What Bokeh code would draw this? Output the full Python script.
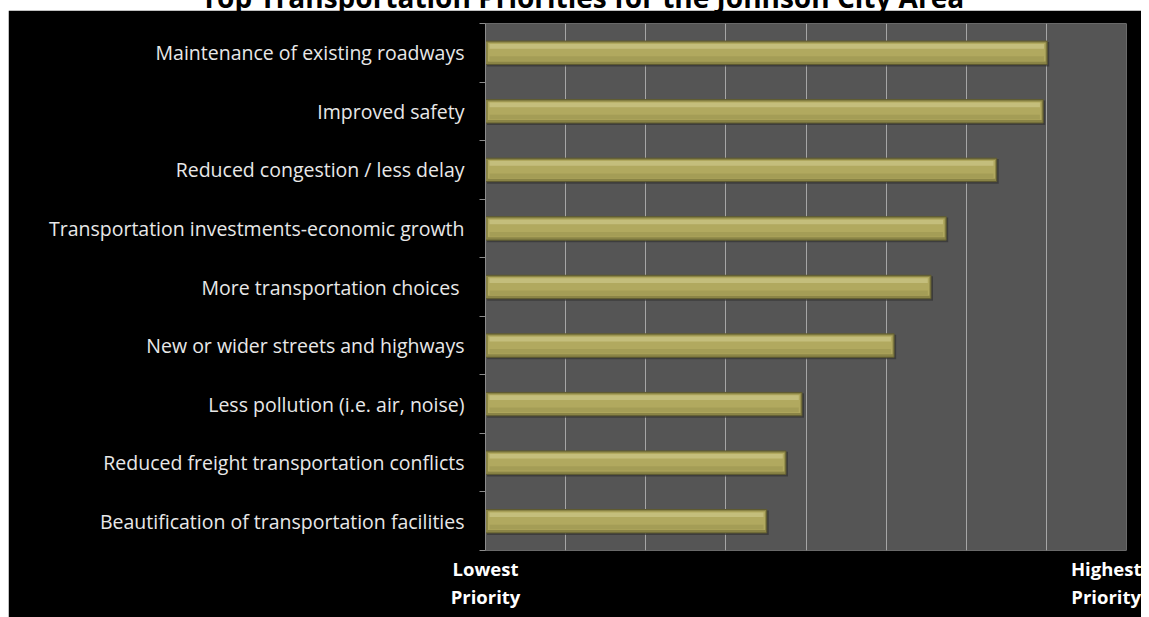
from bokeh.plotting import figure
from bokeh.models import Range1d, FixedTicker, Div
from bokeh.layouts import column
from bokeh.embed import file_html
from bokeh.resources import INLINE

title_text = "Top Transportation Priorities for the Johnson City Area"
categories = [
    "Maintenance of existing roadways",
    "Improved safety",
    "Reduced congestion / less delay",
    "Transportation investments-economic growth",
    "More transportation choices ",
    "New or wider streets and highways",
    "Less pollution (i.e. air, noise)",
    "Reduced freight transportation conflicts",
    "Beautification of transportation facilities",
]
scores = [7.01, 6.96, 6.38, 5.75, 5.56, 5.10, 3.95, 3.75, 3.51]
x_tick_values = [0, 7.78]
x_tick_labels = ["Lowest\nPriority", "Highest\nPriority"]

n = len(categories)
ys = [n - 0.5 - i for i in range(n)]

p = figure(width=1133, height=607, output_backend="svg", toolbar_location=None,
           x_range=Range1d(0, 8), y_range=Range1d(0, n),
           min_border_left=477, min_border_right=15, min_border_top=13, min_border_bottom=67,
           margin=(0, 0, -20, 8))
p.border_fill_color = "black"
p.background_fill_color = "#555555"
p.outline_line_color = None

# bars: shadow + layered gradient
p.hbar(y=[y - 0.025 for y in ys], left=0.02, right=[s + 0.025 for s in scores], height=0.42,
       fill_color="#333333", fill_alpha=0.7, line_color=None)
p.hbar(y=ys, left=0.0, right=scores, height=0.40, fill_color="#8a8446", line_color="#5e5a30", line_width=1)
p.hbar(y=[y + 0.01 for y in ys], left=0.03, right=[s - 0.02 for s in scores], height=0.32,
       fill_color="#b1a95f", line_color=None)
p.hbar(y=[y + 0.11 for y in ys], left=0.05, right=[s - 0.04 for s in scores], height=0.08,
       fill_color="#c7c07f", fill_alpha=0.9, line_color=None)
p.hbar(y=[y - 0.1 for y in ys], left=0.05, right=[s - 0.04 for s in scores], height=0.08,
       fill_color="#a39b55", fill_alpha=0.9, line_color=None)

# x axis
xa = p.xaxis[0]
xa.ticker = FixedTicker(ticks=x_tick_values)
xa.major_label_overrides = {v: t for v, t in zip(x_tick_values, x_tick_labels)}
xa.major_label_text_color = "white"
xa.major_label_text_font = "Open Sans"
xa.major_label_text_font_style = "bold"
xa.major_label_text_font_size = "18.5px"
xa.major_label_text_line_height = 1.15
xa.axis_line_color = None
xa.major_tick_line_color = None
xa.minor_tick_line_color = None
xa.major_tick_out = 0
xa.major_label_standoff = 5

# y axis
ya = p.yaxis[0]
ya.ticker = FixedTicker(ticks=ys, minor_ticks=list(range(n + 1)))
ya.major_label_overrides = {y: c for y, c in zip(ys, categories)}
ya.major_label_text_color = "#e8e8e8"
ya.major_label_text_font = "Open Sans"
ya.major_label_text_font_size = "19.5px"
ya.major_tick_line_color = None
ya.major_tick_out = 0
ya.major_tick_in = 0
ya.major_label_standoff = 15
ya.minor_tick_line_color = "#8c8c8c"
ya.minor_tick_out = 6
ya.minor_tick_in = 0
ya.axis_line_color = "#8c8c8c"

p.xgrid.ticker = FixedTicker(ticks=[1, 2, 3, 4, 5, 6, 7, 8])
p.xgrid.grid_line_color = "#a6a6a6"
p.ygrid.grid_line_color = None

title = Div(text='<span style="position:relative; left:8px;">' + title_text + '</span>',
            width=1133, height=28, margin=(-18, 0, 0, 8),
            styles={"font-family": "Open Sans", "font-weight": "bold", "font-size": "28px",
                    "color": "black", "text-align": "center", "line-height": "30px",
                    "white-space": "nowrap"})

layout = column(title, p, spacing=0)
open("out.html", "w").write(file_html(layout, INLINE))
